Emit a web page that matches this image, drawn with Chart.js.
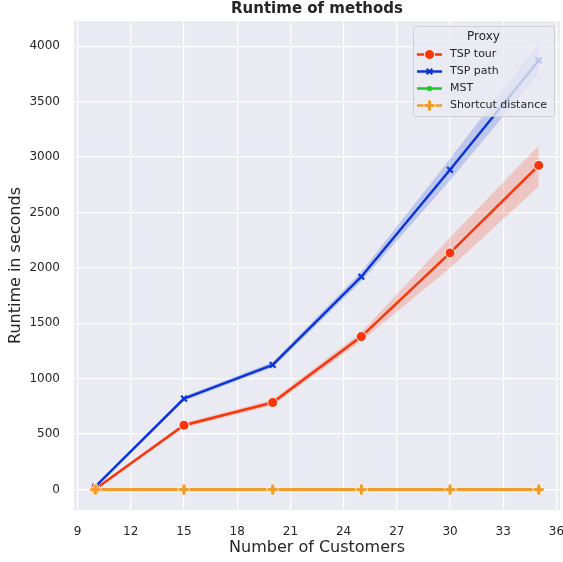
<!DOCTYPE html>
<html>
<head>
<meta charset="utf-8">
<script src="https://cdn.jsdelivr.net/npm/chart.js@4/dist/chart.umd.min.js"></script>
<style>
  html, body { margin: 0; padding: 0; background: #fff; }
  #wrap { width: 563px; height: 562px; }
</style>
</head>
<body>
<div id="wrap"><canvas id="runtimeChart" width="563" height="562"></canvas></div>
<script>
// runtime per method, mean and confidence band
const customers = [10, 15, 20, 25, 30, 35];
const tspTour = [5, 580, 785, 1380, 2135, 2925];
const tspTourLow = [0, 560, 760, 1340, 2000, 2735];
const tspTourHigh = [10, 600, 810, 1420, 2275, 3105];
const tspPath = [25, 820, 1125, 1920, 2885, 3872];
const tspPathLow = [15, 800, 1100, 1880, 2790, 3755];
const tspPathHigh = [35, 840, 1150, 1965, 2985, 4027];
const mst = [0, 0, 0, 0, 0, 0];
const shortcut = [0, 0, 0, 0, 0, 0];

const xTicks = [9, 12, 15, 18, 21, 24, 27, 30, 33, 36];
const yTicks = [0, 500, 1000, 1500, 2000, 2500, 3000, 3500, 4000];

const RED = '#fb3509';
const BLUE = '#0b35d8';
const GREEN = '#1ec62a';
const ORANGE = '#ee9d2a';

const FONT = '"DejaVu Sans", sans-serif';
const TEXT = '#262626';

// filled "plus" marker with a thin white edge
function plusMarker(color) {
  const c = document.createElement('canvas');
  c.width = 13; c.height = 13;
  const g = c.getContext('2d');
  const m = 6.5, a = 5.5, w = 2;
  g.beginPath();
  g.moveTo(m - w, m - a); g.lineTo(m + w, m - a); g.lineTo(m + w, m - w);
  g.lineTo(m + a, m - w); g.lineTo(m + a, m + w); g.lineTo(m + w, m + w);
  g.lineTo(m + w, m + a); g.lineTo(m - w, m + a); g.lineTo(m - w, m + w);
  g.lineTo(m - a, m + w); g.lineTo(m - a, m - w); g.lineTo(m - w, m - w);
  g.closePath();
  g.fillStyle = color;
  g.fill();
  g.strokeStyle = 'rgba(255,255,255,0.9)';
  g.lineWidth = 0.8;
  g.stroke();
  return c;
}

function pts(ys) {
  return customers.map((x, i) => ({ x: x, y: ys[i] }));
}

function band(ys, color, fill, order) {
  return {
    data: pts(ys),
    borderWidth: 0,
    pointRadius: 0,
    backgroundColor: color,
    fill: fill,
    order: order,
    isBand: true
  };
}

function series(label, ys, color, style, radius, border, width, order) {
  return {
    label: label,
    data: pts(ys),
    borderColor: color,
    backgroundColor: color,
    borderWidth: width,
    pointStyle: style,
    pointRadius: radius,
    pointBorderColor: style === 'circle' ? '#ffffff' : color,
    pointBorderWidth: border,
    pointBackgroundColor: color,
    fill: false,
    order: order
  };
}

const datasets = [
  band(tspTourHigh, 'rgba(251,53,9,0.2)', '+1', 20),
  band(tspTourLow, 'rgba(0,0,0,0)', false, 21),
  band(tspPathHigh, 'rgba(11,53,216,0.2)', '+1', 18),
  band(tspPathLow, 'rgba(0,0,0,0)', false, 19),
  series('TSP tour', tspTour, RED, 'circle', 5, 1, 2.5, 4),
  series('TSP path', tspPath, BLUE, 'crossRot', 4, 2.2, 2.5, 3),
  series('MST', mst, GREEN, 'rect', 2.5, 1, 2, 2),
  series('Shortcut distance', shortcut, ORANGE, plusMarker(ORANGE), 6, 1, 3, 1)
];

function drawMarker(ctx, d, x, y) {
  ctx.save();
  ctx.fillStyle = d.pointBackgroundColor;
  ctx.strokeStyle = d.pointBorderColor;
  ctx.lineWidth = d.pointBorderWidth;
  Chart.helpers.drawPoint(ctx, {
    pointStyle: d.pointStyle,
    radius: d.pointRadius,
    borderWidth: d.pointBorderWidth,
    rotation: 0
  }, x, y);
  ctx.restore();
}

// plot background, title and a legend box drawn over the lines
const decor = {
  id: 'decor',
  beforeDraw(chart) {
    const { ctx, chartArea: a } = chart;
    ctx.save();
    ctx.fillStyle = '#eaeaf2';
    ctx.fillRect(a.left, a.top, a.right - a.left, a.bottom - a.top);
    ctx.restore();
  },
  afterDraw(chart) {
    const { ctx, chartArea: a } = chart;
    ctx.save();
    ctx.fillStyle = TEXT;
    ctx.font = 'bold 15px ' + FONT;
    ctx.textAlign = 'center';
    ctx.textBaseline = 'middle';
    ctx.fillText('Runtime of methods', (a.left + a.right) / 2, 9.5);

    const bx = 413, by = 26, bw = 141, bh = 90;
    ctx.beginPath();
    ctx.roundRect(bx + 0.5, by + 0.5, bw, bh, 3);
    ctx.fillStyle = 'rgba(234,234,242,0.8)';
    ctx.fill();
    ctx.strokeStyle = 'rgba(200,200,200,0.8)';
    ctx.lineWidth = 1;
    ctx.stroke();

    ctx.fillStyle = TEXT;
    ctx.font = '12px ' + FONT;
    ctx.fillText('Proxy', bx + bw / 2, 37);

    const items = chart.data.datasets.filter(d => !d.isBand);
    ctx.font = '11px ' + FONT;
    ctx.textAlign = 'left';
    items.forEach((d, i) => {
      const y = 54.5 + i * 17;
      ctx.strokeStyle = d.borderColor;
      ctx.lineWidth = 2.5;
      ctx.beginPath();
      ctx.moveTo(417, y);
      ctx.lineTo(442, y);
      ctx.stroke();
      drawMarker(ctx, d, 429.5, y);
      ctx.fillStyle = TEXT;
      ctx.fillText(d.label, 450, y);
    });
    ctx.restore();
  }
};

new Chart(document.getElementById('runtimeChart'), {
  type: 'line',
  data: { datasets: datasets },
  plugins: [decor],
  options: {
    responsive: false,
    animation: false,
    layout: { autoPadding: false, padding: { top: 21, right: 3, left: 0, bottom: 0 } },
    plugins: {
      legend: { display: false },
      title: { display: false },
      tooltip: { enabled: false }
    },
    scales: {
      x: {
        type: 'linear',
        min: 8.8,
        max: 36.2,
        afterBuildTicks(s) { s.ticks = xTicks.map(v => ({ value: v })); },
        afterFit(s) { s.height = 52; s.paddingLeft = 0; s.paddingRight = 0; },
        grid: { color: '#ffffff', lineWidth: 1.2, drawTicks: false },
        border: { display: false },
        ticks: {
          color: TEXT, font: { family: FONT, size: 12 }, padding: 15, maxRotation: 0,
          callback: v => String(v)
        },
        title: {
          display: true, text: 'Number of Customers', color: TEXT,
          font: { family: FONT, size: 16 }, padding: { top: 0, bottom: 4.5 }
        }
      },
      y: {
        min: -185,
        max: 4228,
        afterBuildTicks(s) { s.ticks = yTicks.map(v => ({ value: v })); },
        afterFit(s) { s.width = 74; s.paddingTop = 0; s.paddingBottom = 0; },
        grid: { color: '#ffffff', lineWidth: 1.2, drawTicks: false },
        border: { display: false },
        ticks: {
          color: TEXT, font: { family: FONT, size: 12 }, padding: 14,
          callback: v => String(v)
        },
        title: {
          display: true, text: 'Runtime in seconds', color: TEXT,
          font: { family: FONT, size: 16 }, padding: { top: 6.5, bottom: 0 }
        }
      }
    }
  }
});
</script>
</body>
</html>
